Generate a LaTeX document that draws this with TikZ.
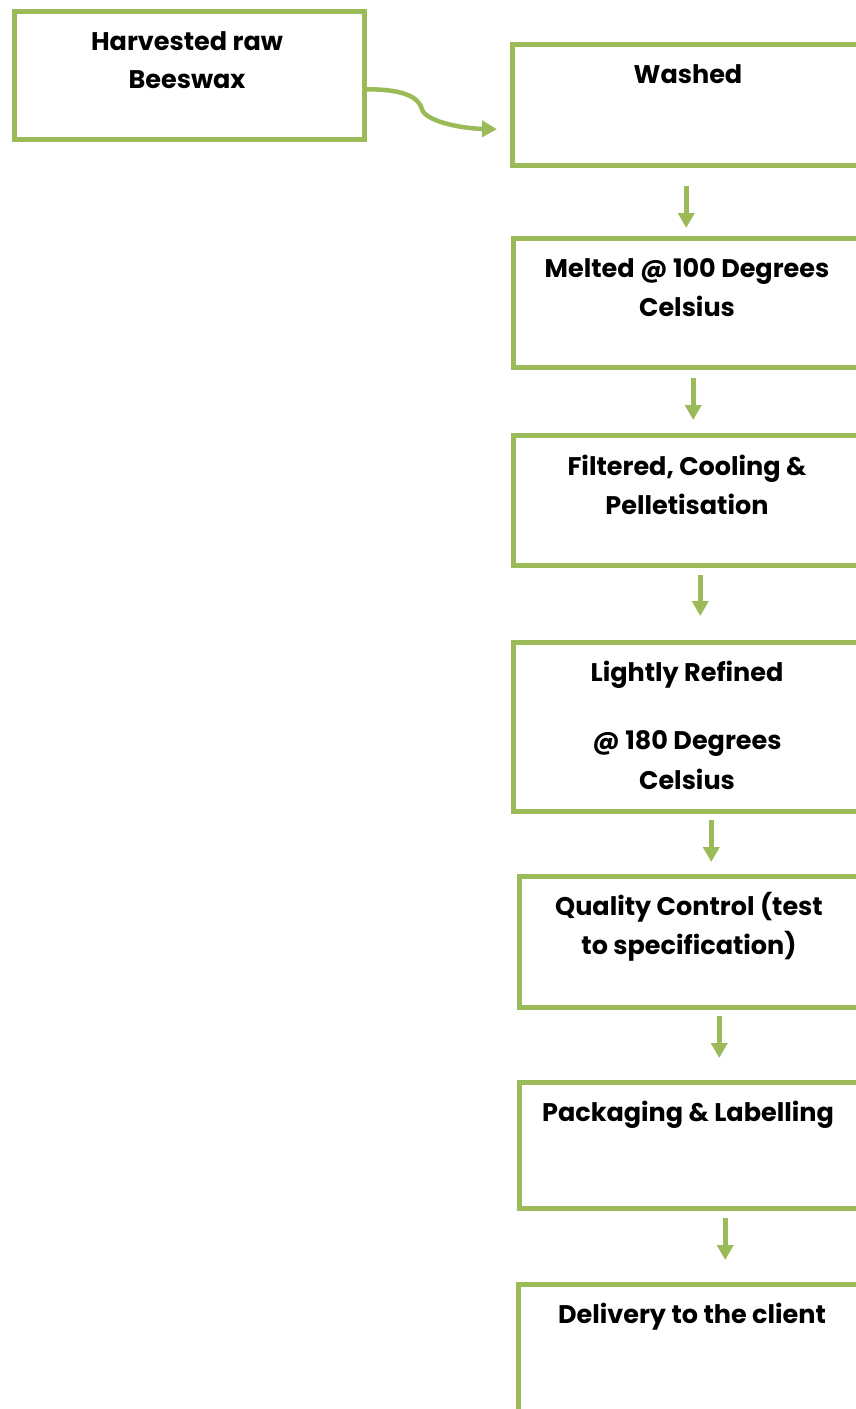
\documentclass[tikz,border=0pt]{standalone}
\usepackage{fontspec}
\setmainfont{Poppins}
\usetikzlibrary{arrows.meta}
\definecolor{lg}{HTML}{9BBB59}
\begin{document}
\begin{tikzpicture}[x=1pt,y=-1pt,
  stepbox/.style={draw=lg,line width=4.5pt,rectangle,anchor=north west,inner sep=0pt,minimum width=#1},
  stepbox/.default=356pt,
  lbl/.style={anchor=base,inner sep=0pt,font=\fontsize{25.5}{30}\selectfont\bfseries},
  arr/.style={draw=lg,line width=4.5pt,-{Triangle[length=15pt,width=16pt]}}]
\useasboundingbox (0,0) rectangle (856,1409);
\clip (0,0) rectangle (856,1409);
% boxes
\node[stepbox=350pt,minimum height=128pt] (raw) at (12,9) {};
\node[stepbox=356pt,minimum height=121pt] (w) at (510,42) {};
\node[stepbox=355pt,minimum height=129pt] (m) at (511,236) {};
\node[stepbox=355pt,minimum height=130pt] (f) at (511,433) {};
\node[stepbox=355pt,minimum height=169pt] (r) at (511,640) {};
\node[stepbox=349pt,minimum height=131pt] (q) at (517,874) {};
\node[stepbox=349pt,minimum height=126pt] (p) at (517,1080) {};
\node[stepbox=350pt,minimum height=200pt] (d) at (516,1282) {};
% labels
\node[lbl] (raw1) at (187,50) {Harvested raw};
\node[lbl] (raw2) at (187,88) {Beeswax};
\node[lbl] (w1) at (688,83) {Washed};
\node[lbl] (m1) at (687,277) {Melted @ 100 Degrees};
\node[lbl] (m2) at (687,316) {Celsius};
\node[lbl] (f1) at (687,475) {Filtered, Cooling \&};
\node[lbl] (f2) at (687,514) {Pelletisation};
\node[lbl] (r1) at (687,681) {Lightly Refined};
\node[lbl] (r2) at (687,749) {@ 180 Degrees};
\node[lbl] (r3) at (687,789) {Celsius};
\node[lbl] (q1) at (689,915) {Quality Control (test};
\node[lbl] (q2) at (689,954) {to specification)};
\node[lbl] (p1) at (688,1121) {Packaging \& Labelling};
\node[lbl] (d1) at (692,1323) {Delivery to the client};
% connectors
\draw[arr] ([yshift=-14pt]raw.east) .. controls +(40,0) and +(-3,-11) .. ([xshift=-88pt,yshift=-4.5pt]w.west)
  .. controls +(3,11) and +(-40,-1) .. ([xshift=-13pt,yshift=-24.5pt]w.west);
\draw[arr] ([xshift=-4pt,yshift=-18pt]w.south) -- ([xshift=-4.5pt,yshift=8pt]m.north);
\draw[arr] ([xshift=2.5pt,yshift=-8pt]m.south) -- ([xshift=2.5pt,yshift=13pt]f.north);
\draw[arr] ([xshift=9.5pt,yshift=-7pt]f.south) -- ([xshift=9.5pt,yshift=24pt]r.north);
\draw[arr] ([xshift=20.5pt,yshift=-6pt]r.south) -- ([xshift=17.5pt,yshift=12pt]q.north);
\draw[arr] ([xshift=25.5pt,yshift=-6pt]q.south) -- ([xshift=25.5pt,yshift=22pt]p.north);
\draw[arr] ([xshift=31.5pt,yshift=-7pt]p.south) -- ([xshift=32pt,yshift=22pt]d.north);
\end{tikzpicture}
\end{document}
